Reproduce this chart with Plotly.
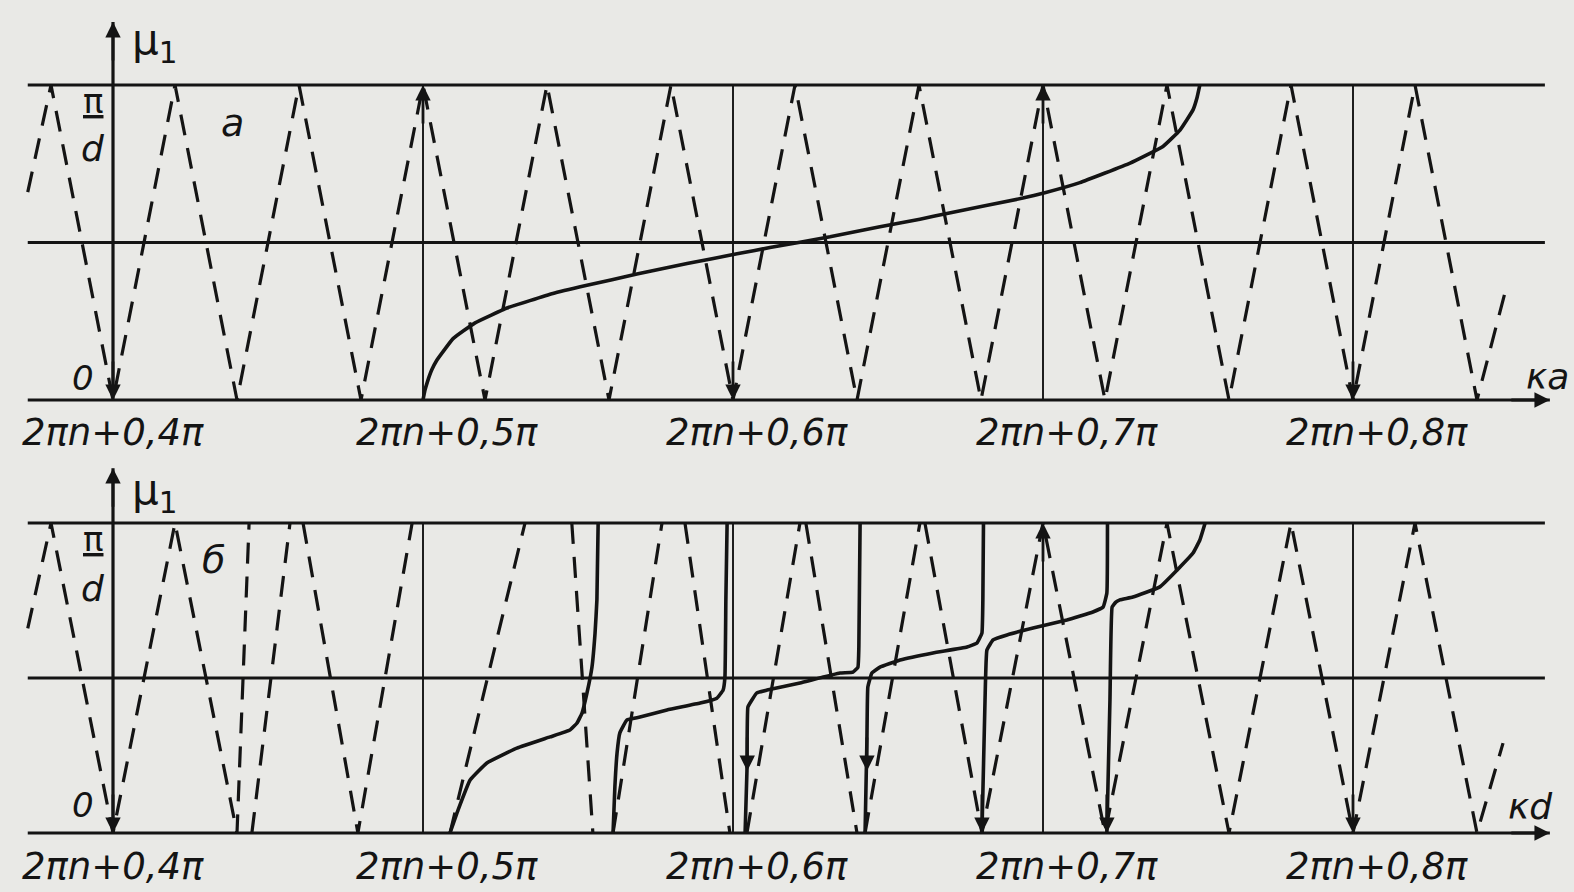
import plotly.graph_objects as go

# ---------------- data (x in units of pi, offset 2*pi*n; y in units of pi/d) ----------------
tick_vals = [0.4, 0.5, 0.6, 0.7, 0.8]
tick_text = ["2πn+0,4π", "2πn+0,5π", "2πn+0,6π", "2πn+0,7π", "2πn+0,8π"]

# panel a: dashed zig-zag
dash_a_x = [0.3725, 0.38, 0.40, 0.42, 0.44, 0.46, 0.48, 0.50, 0.52, 0.54, 0.56, 0.58, 0.60,
            0.62, 0.64, 0.66, 0.68, 0.70, 0.72, 0.74, 0.76, 0.78, 0.80, 0.82, 0.84, 0.849]
dash_a_y = [0.66, 1, 0, 1, 0, 1, 0, 1, 0, 1, 0, 1, 0,
            1, 0, 1, 0, 1, 0, 1, 0, 1, 0, 1, 0, 0.34]

# panel a: solid dispersion curve
curve_a_x = [0.500, 0.5006, 0.5015, 0.5028, 0.5045, 0.5097, 0.5168, 0.5271, 0.5419, 0.5529,
             0.5690, 0.5852, 0.6013, 0.6119, 0.6313, 0.6474, 0.6603, 0.6690, 0.6935, 0.7006,
             0.7119, 0.7281, 0.7387, 0.7442, 0.7484, 0.7497, 0.7506]
curve_a_y = [0.0, 0.03, 0.06, 0.095, 0.127, 0.195, 0.245, 0.292, 0.338, 0.364,
             0.400, 0.433, 0.464, 0.484, 0.518, 0.550, 0.574, 0.592, 0.641, 0.658,
             0.690, 0.752, 0.805, 0.857, 0.921, 0.96, 1.0]

# panel b: dashed segments
dash_b_segments = [
    ([0.3725, 0.38, 0.40, 0.42, 0.44, 0.4439], [0.66, 1, 0, 1, 0, 1]),
    ([0.4448, 0.4571], [0, 1]),
    ([0.4613, 0.479, 0.4965], [1, 0, 1]),
    ([0.5087, 0.5329], [0, 1]),
    ([0.548, 0.5548], [1, 0]),
    ([0.5613, 0.5771], [0, 1]),
    ([0.5845, 0.599], [1, 0]),
    ([0.6045, 0.6216], [0, 1]),
    ([0.6235, 0.640], [1, 0]),
    ([0.6426, 0.6603], [0, 1]),
    ([0.6619, 0.6803, 0.70, 0.72, 0.74, 0.76, 0.78, 0.80, 0.82, 0.84, 0.8484],
     [1, 0, 1, 0, 1, 0, 1, 0, 1, 0, 0.29]),
]

# panel b: solid branches
curves_b = [
    ([0.5087, 0.5113, 0.5152, 0.5206, 0.5303, 0.5410, 0.5474, 0.5497, 0.5513, 0.5529,
      0.5545, 0.5555, 0.5561, 0.5565],
     [0.0, 0.074, 0.171, 0.226, 0.274, 0.310, 0.332, 0.355, 0.387, 0.452,
      0.535, 0.645, 0.752, 1.0]),
    ([0.5613, 0.5619, 0.5626, 0.5635, 0.5658, 0.5700, 0.5787, 0.5894, 0.5948, 0.5968,
      0.5974, 0.5977, 0.5981],
     [0.0, 0.15, 0.258, 0.323, 0.365, 0.374, 0.397, 0.419, 0.435, 0.461,
      0.503, 0.752, 1.0]),
    ([0.6039, 0.6045, 0.6048, 0.6061, 0.6077, 0.6110, 0.6216, 0.6345, 0.6387, 0.6403,
      0.6406, 0.6410],
     [0.0, 0.2, 0.406, 0.429, 0.452, 0.461, 0.484, 0.516, 0.519, 0.535,
      0.6, 1.0]),
    ([0.6426, 0.6432, 0.6435, 0.6448, 0.6474, 0.6539, 0.6645, 0.6755, 0.6787, 0.6803,
      0.6806, 0.6808],
     [0.0, 0.3, 0.471, 0.516, 0.535, 0.558, 0.581, 0.600, 0.613, 0.645,
      0.752, 1.0]),
    ([0.6803, 0.6813, 0.6819, 0.6839, 0.6884, 0.6968, 0.7077, 0.7161, 0.7194, 0.7206,
      0.7208],
     [0.0, 0.429, 0.590, 0.623, 0.639, 0.661, 0.687, 0.713, 0.729, 0.774,
      1.0]),
    ([0.7206, 0.7216, 0.7223, 0.7235, 0.7248, 0.7290, 0.7377, 0.7442, 0.7484, 0.7506,
      0.7523],
     [0.0, 0.43, 0.729, 0.745, 0.752, 0.761, 0.794, 0.858, 0.903, 0.945,
      1.0]),
]

# vertical reference lines
vlines_a = [0.5, 0.6, 0.7, 0.8]
vlines_b = [0.5, 0.6, 0.7, 0.8]

# horizontal reference levels
hlevels = [0.0, 0.5, 1.0]
x_left, x_right, x_arrow = 0.3725, 0.8619, 0.8635
yaxis_top_a, yaxis_top_b = 1.2, 1.177

# ---------------- styling ----------------
INK = "#141414"
BG = "#e9e9e6"
DASH = "21px,13px"
FONT = "DejaVu Sans"

fig = go.Figure()


def add_line(x, y, panel, width=2.5, dash="solid", shape="linear", smoothing=0.3):
    xa, ya = ("x", "y") if panel == "a" else ("x2", "y2")
    fig.add_trace(go.Scatter(
        x=x, y=y, mode="lines", xaxis=xa, yaxis=ya,
        line=dict(color=INK, width=width, dash=dash, shape=shape, smoothing=smoothing),
        hoverinfo="skip", showlegend=False))


for panel, ytop in (("a", yaxis_top_a), ("b", yaxis_top_b)):
    for lvl in hlevels:
        xe = x_arrow if lvl == 0 else x_right
        add_line([x_left, xe], [lvl, lvl], panel, width=2.8)
    add_line([0.4, 0.4], [0, ytop], panel, width=3.2)

for xv in vlines_a:
    add_line([xv, xv], [0, 1], "a", width=1.9)
for xv in vlines_b:
    add_line([xv, xv], [0, 1], "b", width=1.9)

# dashed zig-zags
add_line(dash_a_x, dash_a_y, "a", width=3.2, dash=DASH)
for sx, sy in dash_b_segments:
    add_line(sx, sy, "b", width=3.2, dash=DASH)

# solid curves
add_line(curve_a_x, curve_a_y, "a", width=3.6, shape="spline", smoothing=0.3)
for cx, cy in curves_b:
    add_line(cx, cy, "b", width=3.6, shape="spline", smoothing=0.3)

# ---------------- arrows & labels ----------------
ann = []


def arrow(x, y, panel, dx=0, dy=0):
    xa, ya = ("x", "y") if panel == "a" else ("x2", "y2")
    ann.append(dict(x=x, y=y, xref=xa, yref=ya, ax=dx, ay=dy, text="",
                    showarrow=True, arrowhead=2, arrowsize=1.1, arrowwidth=2.8,
                    arrowcolor=INK, standoff=0))


def label(x, y, panel, text, size=32, xshift=0):
    xa, ya = ("x", "y") if panel == "a" else ("x2", "y2")
    ann.append(dict(x=x, y=y, xref=xa, yref=ya, text=text, showarrow=False,
                    xshift=xshift, font=dict(family=FONT, size=size, color=INK)))


# axis arrows
arrow(0.4, yaxis_top_a, "a", dy=40)
arrow(0.4, 0, "a", dy=-40)
arrow(x_arrow, 0, "a", dx=-40)
arrow(0.5, 1, "a", dy=40)
arrow(0.6, 0, "a", dy=-40)
arrow(0.7, 1, "a", dy=40)
arrow(0.8, 0, "a", dy=-40)

arrow(0.4, yaxis_top_b, "b", dy=40)
arrow(0.4, 0, "b", dy=-40)
arrow(x_arrow, 0, "b", dx=-40)
arrow(0.7, 1, "b", dy=40)
arrow(0.8, 0, "b", dy=-40)
arrow(0.6803, 0, "b", dy=-40)
arrow(0.7206, 0, "b", dy=-40)
arrow(0.6046, 0.2, "b", dy=-35)
arrow(0.6432, 0.2, "b", dy=-35)

# tick labels
for panel, ty in (("a", -0.102), ("b", -0.108)):
    for i, (tv, tt) in enumerate(zip(tick_vals, tick_text)):
        label(tv, ty, panel, "<i>" + tt + "</i>", size=37, xshift=0 if i == 0 else 24)

# axis titles and panel marks
label(0.4135, 1.135, "a", "μ<sub>1</sub>", size=42)
label(0.4135, 1.10, "b", "μ<sub>1</sub>", size=42)
label(0.8628, 0.075, "a", "<i>κa</i>", size=36)
label(0.8574, 0.085, "b", "<i>κd</i>", size=36)
label(0.3903, 0.07, "a", "<i>0</i>", size=34)
label(0.3903, 0.09, "b", "<i>0</i>", size=34)
label(0.4384, 0.88, "a", "<i>а</i>", size=38)
label(0.4323, 0.88, "b", "<i>б</i>", size=38)
for panel, yp, yd in (("a", 0.95, 0.80), ("b", 0.95, 0.79)):
    label(0.3935, yp, panel, "<u>π</u>", size=34)
    label(0.3935, yd, panel, "<i>d</i>", size=36)

x_range = [0.36355, 0.87129]
fig.update_layout(
    width=1574, height=892,
    margin=dict(l=0, r=0, t=0, b=0),
    paper_bgcolor=BG, plot_bgcolor=BG,
    hovermode=False,
    annotations=ann,
    xaxis=dict(domain=[0, 1], range=x_range, visible=False, anchor="y"),
    yaxis=dict(domain=[0.5067, 1], range=[-0.127, 1.2698], visible=False, anchor="x"),
    xaxis2=dict(domain=[0, 1], range=x_range, visible=False, anchor="y2"),
    yaxis2=dict(domain=[0, 0.5011], range=[-0.1903, 1.2516], visible=False, anchor="x2"),
)

fig.write_html("out.html",
               config={"displayModeBar": False},
               post_script="document.body.style.margin='0px';document.body.style.overflow='hidden';")
